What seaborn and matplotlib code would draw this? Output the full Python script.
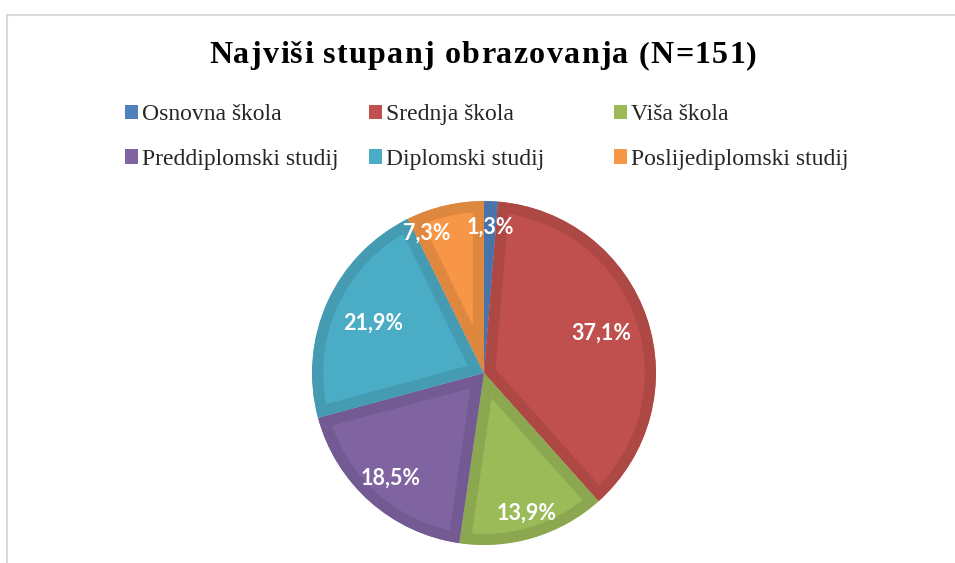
import numpy as np
import matplotlib
matplotlib.use("Agg")
import matplotlib.pyplot as plt
import matplotlib.colors as mcolors
from matplotlib import font_manager as fm
from matplotlib.ft2font import FT2Font
from matplotlib.patches import Patch, Rectangle
import seaborn as sns

# data
categories = ["Osnovna škola", "Srednja škola", "Viša škola",
              "Preddiplomski studij", "Diplomski studij", "Poslijediplomski studij"]
percentages = [1.3, 37.1, 13.9, 18.5, 21.9, 7.3]
colors = ["#4F81BD", "#C0504D", "#9BBB59", "#8064A2", "#4BACC6", "#F79646"]
title = "Najviši stupanj obrazovanja (N=151)"

# label placement: radius (fraction of pie radius) and angle nudge (deg)
label_radius = [0.85, 0.72, 0.85, 0.82, 0.71, 0.88]
label_nudge = [0, 0, 0, 0, 0, 9]

sns.set_theme(style="white")
plt.rcParams["font.family"] = ["Liberation Serif", "DejaVu Serif"]

W, H, DPI = 955, 563, 100
fig = plt.figure(figsize=(W / DPI, H / DPI), dpi=DPI)

# chart frame (light grey, cut off at right and bottom)
fig.patches.append(Rectangle((6.5 / W, -0.1), 1.2, 1 - 14.5 / H + 0.1,
                             transform=fig.transFigure, fill=False,
                             edgecolor="#D9D9D9", linewidth=1.5))

# pie
ax = fig.add_axes([312 / W, 18 / H, 344 / W, 344 / H])
wedges, _ = ax.pie(percentages, colors=colors, startangle=90, counterclock=False,
                   wedgeprops=dict(linewidth=0))
ax.set_xlim(-1, 1)
ax.set_ylim(-1, 1)

for w, c, val, r, nudge in zip(wedges, colors, percentages, label_radius, label_nudge):
    # darker inner border like excel: thick edge clipped to the wedge itself
    dark = tuple(np.array(mcolors.to_rgb(c)) * 0.9)
    w.set_edgecolor(dark)
    w.set_linewidth(16)
    w.set_joinstyle("miter")
    w.set_clip_on(True)
    w.set_clip_path(w)
    ang = np.deg2rad((w.theta1 + w.theta2) / 2 + nudge)
    ax.text(r * np.cos(ang), r * np.sin(ang), f"{val:.1f}%".replace(".", ","),
            ha="center", va="center", color="white", fontsize=15.5,
            fontweight="bold", family=["Lato", "DejaVu Sans"])

# title with expanded letter spacing, placed glyph by glyph
title_size = 23
title_prop = fm.FontProperties(family="Liberation Serif", weight="bold", size=title_size)
ft = FT2Font(fm.findfont(title_prop))
ft.set_size(title_size, DPI)
adv = [ft.load_char(ord(ch)).linearHoriAdvance / 65536 for ch in title]
target_w = 548
spacing = (target_w - sum(adv)) / (len(title) - 1)
pen = 483 - target_w / 2
for ch, a in zip(title, adv):
    if ch != " ":
        fig.text(pen / W, 1 - 63 / H, ch, ha="left", va="baseline",
                 fontproperties=title_prop, color="black")
    pen += a + spacing

# legend, three columns of two
handles = [Patch(facecolor=c, edgecolor="none") for c in colors]
col_x = [125, 369, 614]
for i, x in enumerate(col_x):
    fig.legend([handles[i], handles[i + 3]], [categories[i], categories[i + 3]],
               loc="center left", bbox_to_anchor=(x / W, 1 - 137 / H),
               frameon=False, fontsize=17, handlelength=0.57, handleheight=0.57,
               handletextpad=0.13, labelspacing=1.0, borderpad=0, borderaxespad=0)

fig.savefig("out.png", dpi=DPI, facecolor="white")
